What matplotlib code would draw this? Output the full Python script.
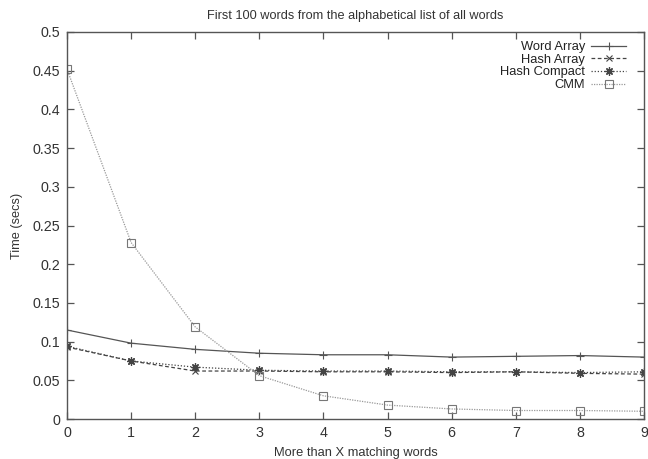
import matplotlib
matplotlib.use("Agg")
import matplotlib.pyplot as plt

plt.rcParams['font.family'] = ['Liberation Sans', 'DejaVu Sans']

# data
x_vals = [0, 1, 2, 3, 4, 5, 6, 7, 8, 9]
word_array = [0.115, 0.098, 0.090, 0.085, 0.083, 0.083, 0.080, 0.081, 0.082, 0.080]
hash_array = [0.093, 0.075, 0.062, 0.062, 0.061, 0.061, 0.060, 0.061, 0.059, 0.058]
hash_compact = [0.094, 0.075, 0.067, 0.063, 0.062, 0.062, 0.061, 0.061, 0.060, 0.061]
cmm = [0.452, 0.228, 0.119, 0.056, 0.030, 0.018, 0.013, 0.011, 0.011, 0.010]

y_ticks = [0, 0.05, 0.1, 0.15, 0.2, 0.25, 0.3, 0.35, 0.4, 0.45, 0.5]
y_labels = ['0', '0.05', '0.1', '0.15', '0.2', '0.25', '0.3', '0.35', '0.4', '0.45', '0.5']

fig = plt.figure(figsize=(6.48, 4.59), dpi=100)
ax = fig.add_axes([0.1034, 0.0871, 0.8904, 0.8432])

ax.plot(x_vals, word_array, color='#555555', lw=0.9, ls='-', marker='+',
        ms=6, mew=0.8, label='Word Array')
ax.plot(x_vals, hash_array, color='#444444', lw=0.9, ls=(0, (3, 2)), marker='x',
        ms=5, mew=0.8, label='Hash Array')
ax.plot(x_vals, hash_compact, color='#444444', lw=0.9, ls=(0, (1, 1.5)), marker=(8, 2, 0),
        ms=6, mew=0.9, label='Hash Compact')
ax.plot(x_vals, cmm, color='#999999', lw=0.9, ls=(0, (1, 1)), marker='s',
        ms=5.5, mew=0.8, mfc='none', mec='#777777', label='CMM')

ax.set_xlim(0, 9)
ax.set_ylim(0, 0.5)
ax.set_xticks(x_vals)
ax.set_yticks(y_ticks)
ax.set_yticklabels(y_labels)

for s in ax.spines.values():
    s.set_color('#555555')
    s.set_linewidth(1.0)
ax.tick_params(direction='in', length=5, width=0.9, color='#555555',
               top=True, right=True, labelsize=10.3, labelcolor='#333333', pad=5)

ax.set_xlabel('More than X matching words', fontsize=9.3, color='#333333', labelpad=5)
ax.set_ylabel('Time (secs)', fontsize=9.2, color='#333333', labelpad=7)
ax.set_title('First 100 words from the alphabetical list of all words',
             fontsize=9.2, color='#333333', pad=9)

leg = ax.legend(loc='upper right', bbox_to_anchor=(0.985, 1.0), frameon=False,
                markerfirst=False, fontsize=9.3, labelspacing=0.05, handlelength=2.7,
                handletextpad=0.5, borderpad=0.2)
for t in leg.get_texts():
    t.set_color('#222222')

fig.savefig('out.png', dpi=100)
